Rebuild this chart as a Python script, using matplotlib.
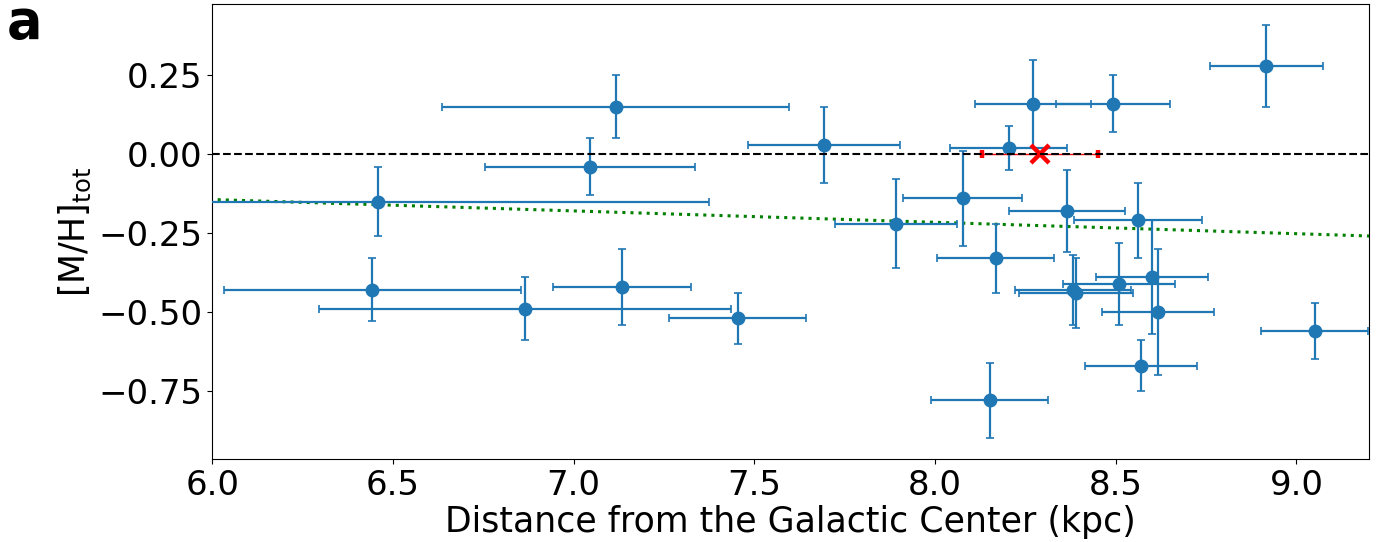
import numpy as np
import matplotlib
matplotlib.use("Agg")
import matplotlib.pyplot as plt

# Data: galactocentric distance (kpc), metallicity [M/H]_tot and errors
dist = [6.459, 6.443, 6.865, 7.134, 7.454, 7.117, 7.045, 7.693,
        7.892, 8.077, 8.168, 8.151, 8.204, 8.271, 8.365, 8.381,
        8.390, 8.493, 8.510, 8.562, 8.570, 8.600, 8.617, 8.917, 9.051]
mh = [-0.15, -0.43, -0.49, -0.42, -0.52, 0.15, -0.04, 0.03,
      -0.22, -0.14, -0.33, -0.78, 0.02, 0.16, -0.18, -0.43,
      -0.44, 0.16, -0.41, -0.21, -0.67, -0.39, -0.50, 0.28, -0.56]
dist_err = [0.915, 0.41, 0.57, 0.19, 0.19, 0.48, 0.29, 0.21,
            0.17, 0.165, 0.162, 0.163, 0.162, 0.16, 0.16, 0.16,
            0.158, 0.157, 0.155, 0.177, 0.155, 0.155, 0.155, 0.157, 0.148]
mh_err = [0.11, 0.10, 0.10, 0.12, 0.08, 0.10, 0.09, 0.12,
          0.14, 0.15, 0.11, 0.12, 0.07, 0.14, 0.13, 0.11,
          0.11, 0.09, 0.13, 0.12, 0.08, 0.18, 0.20, 0.13, 0.09]

# Sun
sun_dist = [8.29]
sun_mh = [0.0]
sun_dist_err = [0.16]

# Gradient line parameters
grad_slope = -0.0361
grad_intercept = 0.0731
grad_range = [5.5, 9.5]

fig = plt.figure(figsize=(13.8, 5.42), dpi=100)
ax = fig.add_axes([0.1538, 0.153, 0.838, 0.8396])

ax.errorbar(dist, mh, xerr=dist_err, yerr=mh_err, fmt='o', color='#1f77b4',
            markersize=9, elinewidth=1.6, capsize=3, capthick=1.2, zorder=3)

ax.errorbar(sun_dist, sun_mh, xerr=sun_dist_err, fmt='x', color='red',
            markersize=13, mew=3.2, elinewidth=1.0, capsize=3, capthick=1.0, zorder=4)

ax.axhline(0.0, color='black', linestyle='--', linewidth=1.5, zorder=5)

gx = np.array(grad_range)
ax.plot(gx, grad_slope * gx + grad_intercept, color='green', linestyle=':',
        linewidth=2.2, zorder=2)

ax.set_xlim(6.0, 9.2)
ax.set_ylim(-0.966, 0.476)
ax.set_xticks([6.0, 6.5, 7.0, 7.5, 8.0, 8.5, 9.0])
ax.set_yticks([0.25, 0.0, -0.25, -0.5, -0.75])
ax.tick_params(labelsize=24.5)
ax.set_xlabel('Distance from the Galactic Center (kpc)', fontsize=25, labelpad=2)
ax.set_ylabel(r'[M/H]$_{\rm tot}$', fontsize=25, labelpad=4)

fig.text(0.005, 1.005, 'a', fontsize=38, fontweight='bold', va='top', ha='left')

fig.savefig('out.png', dpi=100)
